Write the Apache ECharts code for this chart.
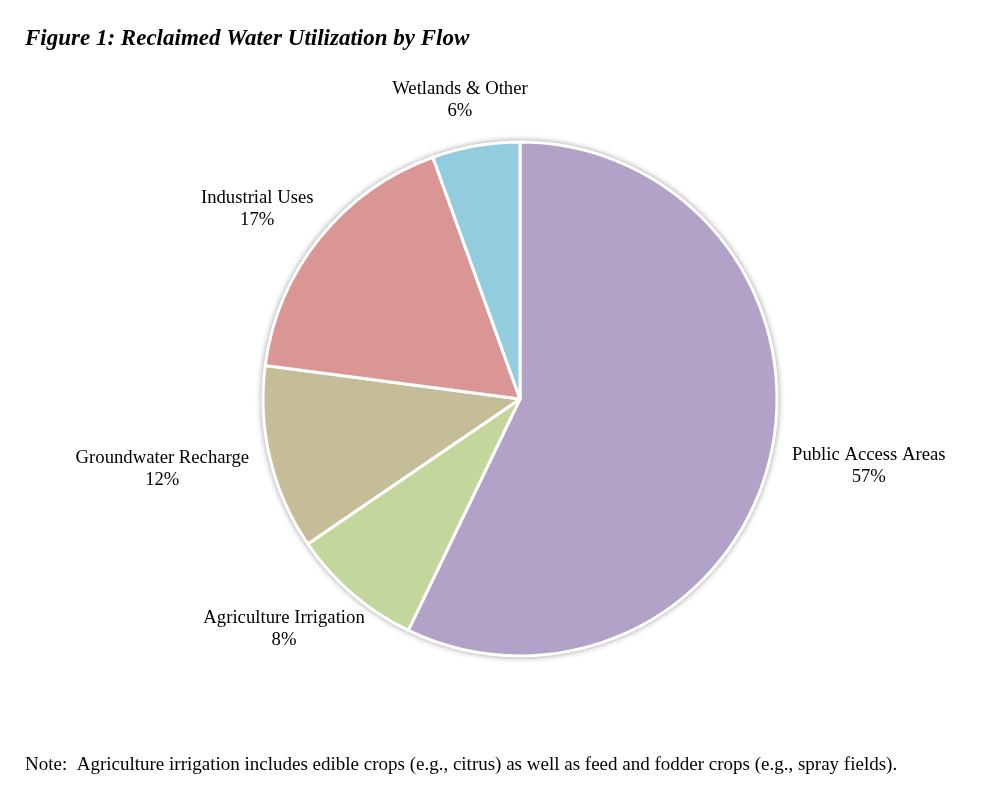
<!DOCTYPE html>
<html>
<head>
<meta charset="utf-8">
<script src="https://cdn.jsdelivr.net/npm/echarts@6/dist/echarts.min.js"></script>
<style>
  html, body { margin: 0; padding: 0; background: #fff; }
  #chart { width: 993px; height: 798px; }
</style>
</head>
<body>
<div id="chart"></div>
<script>
// 用途分类（顺时针，从12点开始）
const categories = ['Public Access Areas', 'Agriculture Irrigation', 'Groundwater Recharge', 'Industrial Uses', 'Wetlands & Other']
// 各部分占比 %（按图中扇区角度估读）
const shares = [57.1, 8.3, 11.6, 17.4, 5.5]
const colors = ['#B3A2C7', '#C3D69B', '#C4BD97', '#D99694', '#93CDDD']

const CX = 520
const CY = 399
const R = 257
const GAP = 24

// 每个扇区中线角度（从正上方顺时针，弧度）
const total = shares.reduce((a, b) => a + b, 0)
const midAngles = []
let acc = 0
shares.forEach(v => {
  midAngles.push(((acc + v / 2) / total) * Math.PI * 2)
  acc += v
})

const chart = echarts.init(document.getElementById('chart'))
const option = {
  backgroundColor: '#fff',
  animation: false,
  title: [
    {
      text: 'Figure 1: Reclaimed Water Utilization by Flow',
      left: 20,
      top: 23,
      textStyle: {
        fontFamily: 'Liberation Serif',
        fontSize: 23,
        fontWeight: 'bold',
        fontStyle: 'italic',
        color: '#000'
      }
    },
    {
      text: 'Note:  Agriculture irrigation includes edible crops (e.g., citrus) as well as feed and fodder crops (e.g., spray fields).',
      left: 20,
      top: 751,
      textStyle: {
        fontFamily: 'Liberation Serif',
        fontSize: 19,
        fontWeight: 'normal',
        color: '#000'
      }
    }
  ],
  series: [
    {
      // 外圈淡灰阴影
      type: 'pie',
      silent: true,
      center: [CX, CY],
      radius: R + 1,
      label: { show: false },
      labelLine: { show: false },
      itemStyle: {
        color: '#fff',
        shadowBlur: 6,
        shadowColor: 'rgba(0,0,0,0.45)'
      },
      data: [{ value: 1, name: '' }]
    },
    {
      type: 'pie',
      center: [CX, CY],
      radius: R,
      startAngle: 90,
      clockwise: true,
      itemStyle: {
        borderColor: '#fff',
        borderWidth: 3
      },
      label: {
        show: true,
        position: 'outside',
        fontFamily: 'Liberation Serif',
        fontSize: 18.7,
        lineHeight: 22,
        color: '#000',
        align: 'center',
        formatter: p => p.name + '\n' + Math.round(p.value) + '%'
      },
      labelLine: { show: false },
      labelLayout: params => {
        const a = midAngles[params.dataIndex]
        const dx = Math.sin(a)
        const dy = -Math.cos(a)
        const w = params.labelRect.width
        const h = params.labelRect.height
        return {
          x: CX + dx * (R + GAP) + dx * w / 2,
          y: CY + dy * (R + GAP) + dy * h / 2,
          align: 'center',
          verticalAlign: 'middle'
        }
      },
      data: categories.map((name, i) => ({
        name: name,
        value: shares[i],
        itemStyle: { color: colors[i] }
      }))
    }
  ]
}
chart.setOption(option)
window.addEventListener('resize', () => chart.resize())
</script>
</body>
</html>
